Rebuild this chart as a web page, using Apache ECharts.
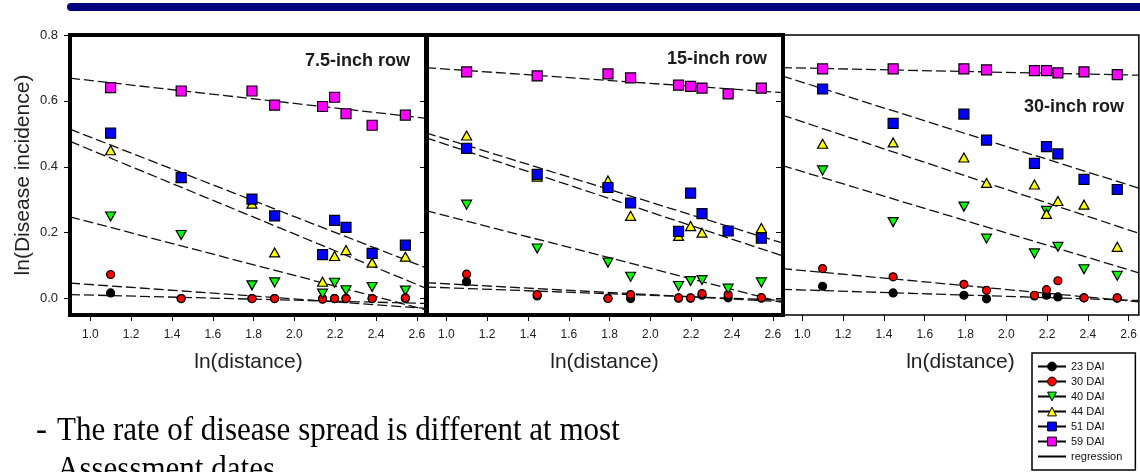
<!DOCTYPE html>
<html><head><meta charset="utf-8">
<script src="https://cdn.jsdelivr.net/npm/echarts@6/dist/echarts.min.js"></script>
<style>html,body{margin:0;padding:0;background:#fff}#c{width:1140px;height:472px}</style>
</head><body><div id="c"></div>
<script>
// ---------- data ----------
const distances = [1.099, 1.445, 1.792, 1.903, 2.138, 2.197, 2.253, 2.381, 2.544];
const panelNames = ['7.5-inch row', '15-inch row', '30-inch row'];
const dates = ['23 DAI', '30 DAI', '40 DAI', '44 DAI', '51 DAI', '59 DAI'];
const xTicks = [1.0, 1.2, 1.4, 1.6, 1.8, 2.0, 2.2, 2.4, 2.6];
const yTicks = [0.0, 0.2, 0.4, 0.6, 0.8];
const regX = [0.9, 2.65];

// 7.5-inch row
const row75_23 = [0.017, 0.000, 0.000, 0.000, 0.000, 0.000, 0.000, 0.000, 0.000];
const row75_30 = [0.073, 0.000, 0.000, 0.000, -0.002, 0.000, 0.000, 0.000, 0.002];
const row75_40 = [0.249, 0.193, 0.040, 0.049, 0.015, 0.048, 0.025, 0.035, 0.024];
const row75_44 = [0.450, 0.368, 0.288, 0.140, 0.051, 0.129, 0.147, 0.109, 0.127];
const row75_51 = [0.502, 0.367, 0.302, 0.251, 0.133, 0.237, 0.216, 0.137, 0.162];
const row75_59 = [0.640, 0.630, 0.630, 0.587, 0.583, 0.611, 0.561, 0.526, 0.557];
// 15-inch row
const row15_23 = [0.051, 0.008, 0.001, 0.000, 0.001, 0.001, 0.010, 0.002, 0.001];
const row15_30 = [0.074, 0.012, 0.000, 0.012, 0.002, 0.002, 0.015, 0.012, 0.003];
const row15_40 = [0.285, 0.152, 0.109, 0.066, 0.038, 0.053, 0.056, 0.030, 0.049];
const row15_44 = [0.495, 0.370, 0.358, 0.251, 0.190, 0.220, 0.200, 0.205, 0.214];
const row15_51 = [0.456, 0.377, 0.337, 0.290, 0.204, 0.320, 0.258, 0.205, 0.183];
const row15_59 = [0.688, 0.676, 0.682, 0.670, 0.648, 0.644, 0.639, 0.621, 0.639];
// 30-inch row
const row30_23 = [0.037, 0.017, 0.010, -0.001, 0.008, 0.010, 0.005, 0.002, 0.001];
const row30_30 = [0.091, 0.066, 0.043, 0.025, 0.010, 0.027, 0.054, 0.002, 0.002];
const row30_40 = [0.389, 0.232, 0.279, 0.182, 0.137, 0.266, 0.157, 0.089, 0.069];
const row30_44 = [0.470, 0.474, 0.428, 0.351, 0.346, 0.257, 0.296, 0.285, 0.157];
const row30_51 = [0.636, 0.532, 0.560, 0.481, 0.410, 0.461, 0.439, 0.362, 0.331];
const row30_59 = [0.697, 0.697, 0.697, 0.694, 0.692, 0.692, 0.685, 0.688, 0.680];

// regression line values at regX[0] and regX[1], order as in `dates`
const reg75_start = [0.012, 0.047, 0.248, 0.477, 0.514, 0.669];
const reg75_end   = [-0.015, -0.030, -0.035, 0.030, 0.092, 0.547];
const reg15_start = [0.035, 0.048, 0.267, 0.488, 0.503, 0.701];
const reg15_end   = [-0.005, -0.010, -0.012, 0.129, 0.168, 0.625];
const reg30_start = [0.028, 0.091, 0.404, 0.557, 0.676, 0.701];
const reg30_end   = [-0.006, -0.010, 0.078, 0.198, 0.335, 0.678];

// ---------- build ----------
const panelValues = [
  [row75_23, row75_30, row75_40, row75_44, row75_51, row75_59],
  [row15_23, row15_30, row15_40, row15_44, row15_51, row15_59],
  [row30_23, row30_30, row30_40, row30_44, row30_51, row30_59]
];
const panelReg = [[reg75_start, reg75_end], [reg15_start, reg15_end], [reg30_start, reg30_end]];

const DOWN = 'path://M0,0L20,0L10,18Z';
const styles = [
  {symbol: 'circle', size: 8, color: '#000000'},
  {symbol: 'circle', size: 8, color: '#ff0000'},
  {symbol: DOWN, size: [10, 9], color: '#00ff00'},
  {symbol: 'triangle', size: [10, 9], color: '#ffff00'},
  {symbol: 'rect', size: 10, color: '#0000ff'},
  {symbol: 'rect', size: 10, color: '#ff00ff'}
];

const FONT = 'Arial, "Liberation Sans", Helvetica, sans-serif';
const SERIF = '"Liberation Serif", "Times New Roman", serif';
const gridLefts = [70, 426, 782];
const grids = gridLefts.map((l, i) => ({
  left: l, top: 35, width: 357, height: 280,
  show: true, borderColor: '#000', borderWidth: i < 2 ? 4 : 1.5,
  backgroundColor: 'transparent', z: i < 2 ? 1 : 0
}));

const xAxes = gridLefts.map((l, i) => ({
  type: 'value', gridIndex: i, min: 0.9, max: 2.65,
  axisLine: {show: false, onZero: false},
  splitLine: {show: false},
  axisTick: {show: true, length: 6, customValues: xTicks, lineStyle: {color: '#000', width: 1}},
  axisLabel: {show: true, customValues: xTicks, margin: 14, fontSize: 12, color: '#222', fontFamily: FONT,
    formatter: v => Number(v).toFixed(1)},
  name: 'ln(distance)', nameLocation: 'middle', nameGap: 37,
  nameTextStyle: {fontSize: 21, color: '#222', fontFamily: FONT}
}));

const yAxes = gridLefts.map((l, i) => ({
  type: 'value', gridIndex: i, min: -0.05, max: 0.8,
  axisLine: {show: false, onZero: false},
  splitLine: {show: false},
  axisTick: {show: true, length: 6, customValues: yTicks, lineStyle: {color: '#000', width: 1}},
  axisLabel: {show: i === 0, customValues: yTicks, margin: 12, fontSize: 13, color: '#222', fontFamily: FONT,
    formatter: v => Number(v).toFixed(1)},
  name: i === 0 ? 'ln(Disease incidence)' : '', nameLocation: 'middle', nameGap: 36,
  nameTextStyle: {fontSize: 21, color: '#222', fontFamily: FONT}
}));

const series = [];
// legend-only series
dates.forEach((d, k) => {
  series.push({
    type: 'line', name: d, data: [], xAxisIndex: 0, yAxisIndex: 0,
    symbol: styles[k].symbol,
    itemStyle: {color: styles[k].color, borderColor: '#000', borderWidth: 1},
    lineStyle: {color: '#000', width: 2}
  });
});
series.push({
  type: 'line', name: 'regression', data: [], xAxisIndex: 0, yAxisIndex: 0,
  symbol: 'none', itemStyle: {color: '#000', opacity: 0},
  lineStyle: {color: '#000', width: 2}
});

panelValues.forEach((vals, p) => {
  dates.forEach((d, k) => {
    series.push({
      type: 'line', name: 'reg ' + d + ' ' + panelNames[p],
      xAxisIndex: p, yAxisIndex: p, z: 2,
      data: [[regX[0], panelReg[p][0][k]], [regX[1], panelReg[p][1][k]]],
      showSymbol: false, symbol: 'none', silent: true,
      lineStyle: {color: '#111', width: 1.3, type: [10, 4]}
    });
  });
  dates.forEach((d, k) => {
    series.push({
      type: 'scatter', name: d + ' ' + panelNames[p],
      xAxisIndex: p, yAxisIndex: p, z: 3,
      symbol: styles[k].symbol, symbolSize: styles[k].size,
      itemStyle: {color: styles[k].color, borderColor: '#000', borderWidth: 1.2, opacity: 1},
      data: vals[k].map((v, j) => [distances[j], v])
    });
  });
});

const option = {
  animation: false,
  backgroundColor: '#fff',
  grid: grids,
  xAxis: xAxes,
  yAxis: yAxes,
  legend: {
    data: dates.concat(['regression']),
    orient: 'vertical', left: 1032, top: 353,
    padding: [8, 13, 8, 5],
    borderColor: '#000', borderWidth: 1.5,
    itemWidth: 28, itemHeight: 11, itemGap: 4,
    selectedMode: false,
    itemStyle: {borderColor: '#000', borderWidth: 1},
    textStyle: {fontSize: 11, color: '#111', fontFamily: FONT}
  },
  graphic: [
    {type: 'rect', shape: {x: 67, y: 3, width: 1080, height: 8, r: [4, 0, 0, 4]}, style: {fill: '#000080'}},
    {type: 'text', x: 305, y: 61, style: {text: panelNames[0], font: 'bold 18px ' + FONT, fill: '#1a1a1a', verticalAlign: 'middle'}},
    {type: 'text', x: 667, y: 59, style: {text: panelNames[1], font: 'bold 18px ' + FONT, fill: '#1a1a1a', verticalAlign: 'middle'}},
    {type: 'text', x: 1024, y: 107, style: {text: panelNames[2], font: 'bold 18px ' + FONT, fill: '#1a1a1a', verticalAlign: 'middle'}},
    {type: 'text', x: 36, y: 431, style: {text: '-', font: '33px ' + SERIF, fill: '#000', verticalAlign: 'middle'}},
    {type: 'text', x: 57, y: 431, scaleX: 0.94, style: {text: 'The rate of disease spread is different at most', font: '33px ' + SERIF, fill: '#000', verticalAlign: 'middle'}},
    {type: 'text', x: 57, y: 470, scaleX: 0.94, style: {text: 'Assessment dates', font: '33px ' + SERIF, fill: '#000', verticalAlign: 'middle'}}
  ],
  series: series
};

const chart = echarts.init(document.getElementById('c'), null, {renderer: 'canvas'});
chart.setOption(option);
</script>
</body></html>
